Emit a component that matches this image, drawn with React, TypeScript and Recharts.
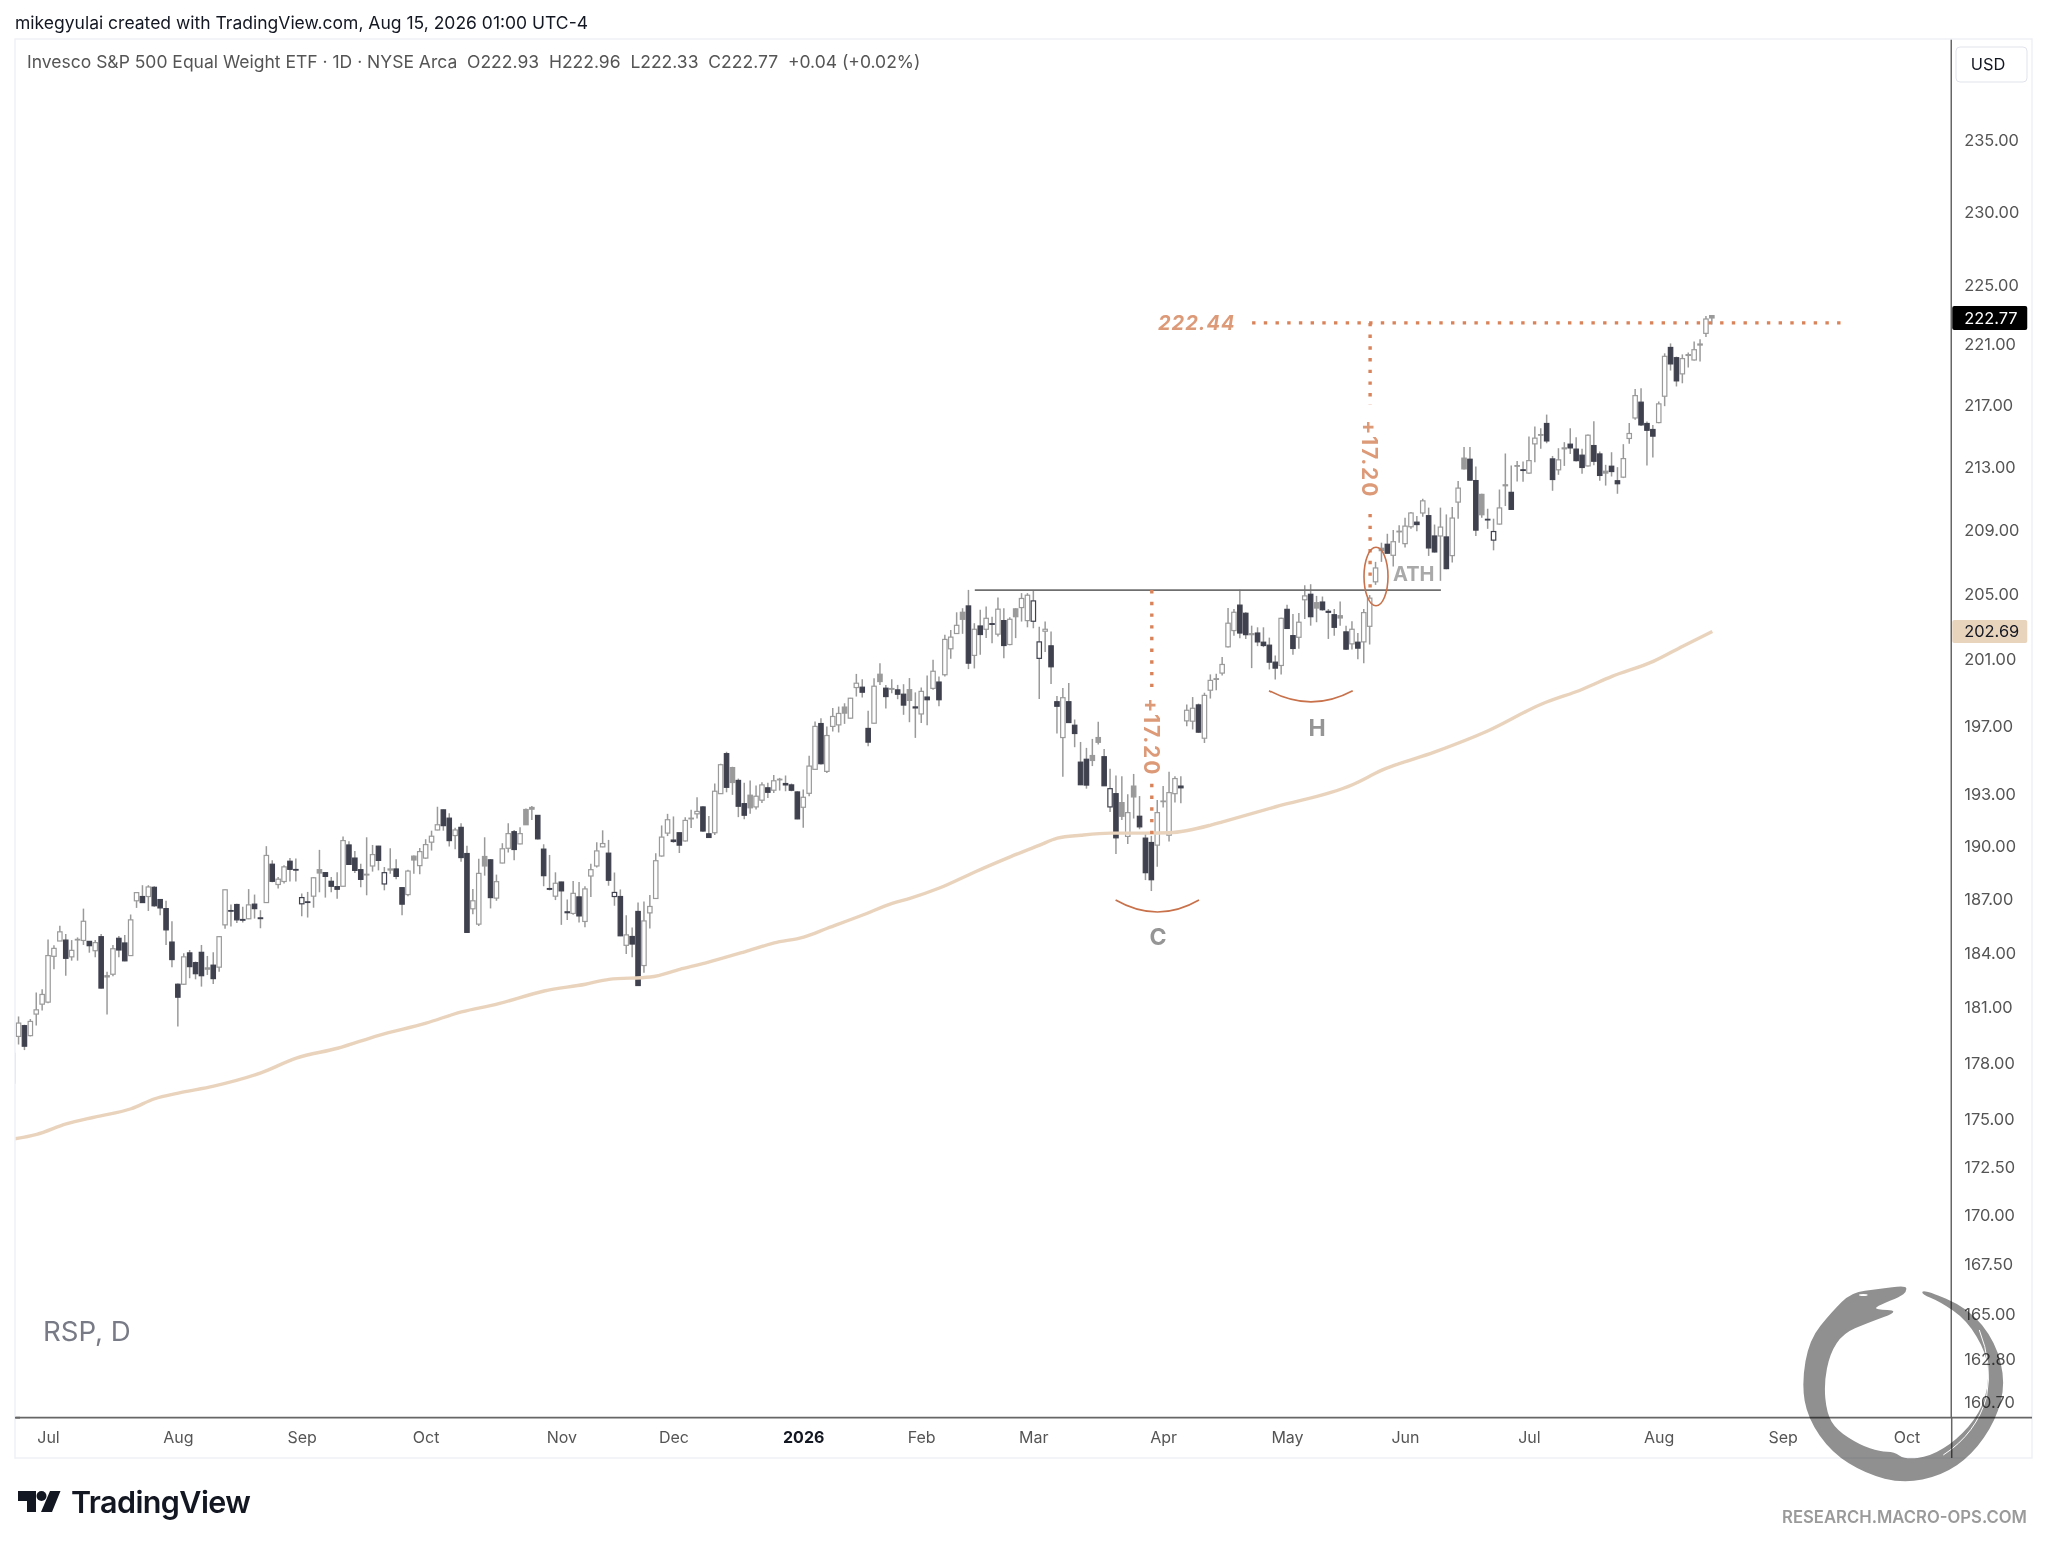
import { Bar, ComposedChart, Line, ReferenceLine, XAxis, YAxis } from 'recharts';

// one candle per session, the first one is cut off by the left edge of the pane
const highs = [
  178.51,180.50,180.05,180.36,181.81,181.99,184.74,184.41,185.50,185.04,
  184.70,184.85,186.46,184.65,184.70,185.04,182.95,184.43,184.93,184.98,
  186.13,187.38,187.78,187.78,187.72,186.97,186.90,185.75,182.30,183.97,
  184.15,183.51,184.43,183.82,184.02,184.93,187.54,186.69,186.73,186.56,
  187.56,187.25,186.37,190.00,189.20,188.25,188.91,189.32,189.30,187.31,
  187.40,188.24,189.79,188.51,188.24,188.51,190.55,190.28,189.73,189.00,
  190.51,190.07,190.02,188.81,189.88,189.26,187.64,188.66,189.47,189.90,
  190.40,190.89,192.27,192.11,191.89,191.06,191.31,190.02,187.57,189.28,
  190.51,189.26,188.38,190.17,191.31,190.93,191.08,192.17,192.31,191.77,
  190.11,189.50,188.51,187.98,186.97,188.02,187.96,187.72,189.00,190.23,
  190.91,190.36,188.50,187.54,186.09,185.40,186.81,186.86,187.22,189.59,
  191.19,191.86,191.71,190.77,191.67,192.09,192.82,192.30,191.73,193.62,
  194.78,195.48,194.60,193.91,193.66,193.80,193.50,193.70,193.66,194.12,
  193.95,194.09,193.62,193.17,193.27,195.25,197.27,197.47,196.98,198.07,
  198.16,198.36,198.68,200.12,199.80,197.91,199.86,200.76,199.46,199.80,
  199.46,199.50,199.87,199.01,199.31,200.03,200.98,199.97,202.49,202.79,
  203.87,204.12,205.25,203.20,204.02,204.22,203.60,204.78,204.12,203.56,
  204.12,205.05,205.05,205.21,202.99,203.30,202.69,198.79,199.27,199.57,
  197.39,196.06,195.71,196.24,197.25,195.65,194.48,194.09,194.05,192.99,
  194.18,192.89,190.78,190.59,192.66,193.47,194.31,194.05,194.05,198.28,
  198.73,198.34,198.99,200.09,200.13,201.14,204.13,204.07,205.26,203.87,
  203.05,202.95,202.95,202.32,201.24,203.54,204.33,203.77,203.83,205.54,
  205.60,204.88,204.84,204.07,204.07,204.54,203.05,203.32,202.60,204.07,
  204.93,206.99,208.19,208.75,208.98,209.29,209.76,210.12,209.87,210.96,
  210.40,209.33,210.40,209.97,210.44,212.10,214.28,214.28,213.03,211.28,
  210.33,209.70,211.55,213.86,213.08,213.38,213.34,214.95,215.60,215.49,
  216.38,213.70,214.20,214.59,215.49,214.91,214.16,215.08,215.95,213.99,
  213.13,213.94,212.98,214.46,215.84,218.06,218.10,215.93,215.71,217.23,
  220.41,221.07,220.19,220.34,220.47,221.19,221.34,222.90,222.96,
];
const bodyTops = [
  178.51,180.14,180.00,180.23,180.86,181.70,183.84,184.24,185.16,184.70,
  184.13,184.74,185.75,184.63,184.56,184.89,182.73,184.22,184.80,184.54,
  185.83,187.36,187.14,187.68,187.66,186.97,186.46,184.59,182.26,183.77,
  183.99,183.45,184.02,183.16,183.31,184.89,187.52,186.35,186.69,185.85,
  186.67,186.71,185.94,189.47,188.97,188.12,188.82,189.14,188.67,187.08,
  186.84,188.20,188.66,188.49,188.00,187.70,190.32,190.07,189.32,188.66,
  188.40,189.52,190.00,188.49,188.70,188.70,187.64,188.58,189.43,189.69,
  190.09,190.57,191.23,192.09,191.61,190.93,191.08,189.58,186.90,188.45,
  189.41,189.22,187.98,189.85,190.72,190.83,190.72,192.11,192.23,191.77,
  189.83,187.59,187.89,187.96,186.28,187.32,187.12,187.57,188.66,189.73,
  190.15,189.60,187.37,187.14,184.99,184.90,186.30,185.77,186.58,189.17,
  190.52,191.52,190.35,190.77,191.48,191.61,192.00,192.26,190.71,193.17,
  194.72,195.37,194.55,193.80,192.45,192.94,192.88,193.54,193.37,193.78,
  193.87,193.62,193.54,193.13,192.82,194.64,196.98,197.15,196.44,197.57,
  197.75,198.13,198.66,199.56,199.32,196.86,199.38,200.10,199.26,199.24,
  199.16,198.90,199.17,198.14,199.07,198.73,200.28,199.63,202.21,202.35,
  203.07,203.87,204.26,202.83,203.03,203.50,203.17,204.06,203.36,203.44,
  204.08,204.72,204.92,204.57,202.06,202.83,201.82,198.45,198.69,198.45,
  197.05,194.87,195.04,195.26,196.32,195.19,193.32,193.03,192.51,191.93,
  193.47,191.72,190.46,190.21,191.93,192.60,193.09,193.91,193.47,197.94,
  198.06,198.26,198.83,199.73,199.83,200.69,203.20,203.87,204.31,203.81,
  202.56,202.60,202.04,201.86,200.83,203.50,204.05,202.44,203.26,204.88,
  204.98,204.46,204.50,203.93,203.72,203.66,202.67,202.83,202.04,203.85,
  204.74,206.61,207.84,208.09,208.25,208.91,209.23,210.06,209.48,210.83,
  209.89,208.61,209.17,208.55,209.74,211.64,213.56,213.49,212.12,211.24,
  209.66,208.89,210.38,211.85,211.37,213.08,212.81,213.40,214.85,215.08,
  215.80,213.51,213.45,214.22,214.46,214.14,213.75,215.04,214.37,213.83,
  212.72,213.04,212.11,213.53,215.15,217.62,217.19,215.80,215.41,217.08,
  220.21,220.80,220.12,220.06,220.32,220.65,221.03,222.70,222.93,
];
const bodyBottoms = [
  176.91,179.42,178.89,179.46,180.63,181.17,181.28,183.80,184.65,183.69,
  183.77,184.72,184.68,184.39,184.11,182.05,182.66,182.81,184.15,183.55,
  183.84,186.90,186.80,187.14,186.62,186.50,185.27,183.62,181.55,182.26,
  183.23,182.84,182.73,183.09,182.57,183.20,185.55,186.32,185.83,185.81,
  185.89,186.46,185.90,186.80,188.00,187.82,187.99,188.68,188.64,186.73,
  186.82,187.16,188.47,188.28,187.72,187.55,187.72,188.96,188.62,188.11,
  188.36,188.87,189.19,187.85,188.64,188.28,186.71,187.25,189.21,188.89,
  189.32,190.23,190.93,191.18,190.32,190.61,189.35,185.13,186.45,185.59,
  188.87,187.08,187.05,189.04,189.88,189.81,190.13,191.23,192.13,190.42,
  188.32,187.55,187.16,187.46,186.23,186.19,186.05,185.74,188.30,188.87,
  189.96,188.06,187.14,184.94,184.41,184.48,182.19,183.29,186.22,187.03,
  189.44,190.75,190.27,190.06,190.30,191.57,191.86,190.87,190.50,190.77,
  193.03,193.40,193.68,192.30,191.78,192.21,192.26,192.65,193.11,193.23,
  193.84,193.54,193.23,191.57,192.24,193.05,194.45,194.78,194.33,196.98,
  197.07,197.77,197.47,199.30,199.02,196.05,197.17,199.66,198.76,199.20,
  198.90,198.25,198.53,198.08,197.72,198.57,199.25,198.57,200.07,201.64,
  202.57,203.44,200.77,201.24,202.51,202.83,203.13,202.53,201.84,201.90,
  203.60,204.16,203.36,203.32,201.06,202.71,200.55,198.18,196.32,197.21,
  196.56,193.55,193.53,194.97,196.04,193.49,192.26,190.48,191.72,190.56,
  192.84,191.11,188.49,188.09,190.06,192.57,190.63,193.03,193.37,197.31,
  197.29,196.64,196.28,199.14,199.79,200.17,201.76,202.75,202.60,202.50,
  202.50,202.06,201.84,200.83,200.47,200.63,202.88,201.66,202.34,204.64,
  203.60,204.13,204.03,203.87,202.95,203.52,201.62,201.94,201.68,202.06,
  203.01,205.75,207.69,207.53,207.40,208.87,208.13,209.19,209.33,210.06,
  207.86,207.61,208.61,206.57,207.38,210.75,212.87,212.15,208.98,209.95,
  209.62,208.35,209.36,211.79,210.29,213.04,212.77,212.60,214.48,215.04,
  214.67,212.19,212.81,214.16,214.22,213.40,212.96,213.06,213.36,212.45,
  212.60,212.70,211.92,212.34,214.83,216.16,215.71,215.36,214.98,215.86,
  217.58,219.71,218.59,219.05,220.27,219.97,220.96,221.74,222.77,
];
const lows = [
  176.91,178.98,178.68,179.42,180.01,180.82,181.22,183.08,184.65,182.73,
  183.56,183.56,184.43,184.00,183.75,182.03,180.61,182.70,183.75,183.53,
  183.82,186.50,186.78,186.33,186.56,186.09,184.43,183.20,179.96,182.22,
  182.59,182.53,182.13,182.77,182.28,182.95,185.33,185.46,185.66,185.68,
  185.87,185.90,185.36,186.78,187.95,187.59,187.88,187.99,187.99,186.03,
  185.96,186.51,187.38,187.08,187.38,187.01,187.70,188.94,188.47,187.66,
  187.21,188.55,188.62,187.49,188.43,188.11,186.09,187.16,188.43,188.40,
  189.28,189.75,190.91,190.89,189.98,189.83,189.11,185.11,186.14,185.49,
  188.32,186.47,186.90,189.02,189.64,189.19,190.11,191.21,191.50,190.38,
  187.72,187.49,186.94,185.55,185.82,186.12,185.68,185.42,187.12,188.79,
  189.94,187.75,186.62,184.92,183.93,183.75,182.17,182.89,185.35,187.01,
  189.40,190.58,190.20,189.61,190.27,191.04,191.59,190.83,190.48,190.64,
  193.01,193.11,192.96,191.67,191.55,191.86,192.11,192.49,192.78,193.07,
  193.21,193.17,193.17,191.55,191.06,192.88,194.43,194.74,194.23,196.68,
  196.62,197.13,197.45,198.76,198.70,195.80,197.15,199.46,198.05,198.96,
  198.60,197.67,197.23,196.30,197.19,197.05,199.17,198.18,199.97,201.04,
  202.55,202.55,200.41,200.45,201.28,202.29,201.98,202.39,201.06,201.86,
  202.29,203.30,202.95,202.89,198.61,201.44,199.51,196.56,194.02,197.19,
  195.75,193.53,193.32,194.64,195.91,193.47,191.97,189.55,191.51,190.12,
  191.59,190.97,188.07,187.45,188.83,192.22,190.27,192.51,192.47,196.99,
  196.80,196.60,196.00,198.64,199.14,200.03,201.72,202.44,202.28,202.24,
  200.47,201.80,201.74,200.39,199.79,200.09,202.84,201.28,201.64,203.46,
  203.05,203.26,203.97,202.24,202.44,203.05,201.56,201.60,201.00,200.77,
  201.90,205.56,206.99,207.51,206.70,208.19,207.88,209.06,208.91,209.83,
  207.36,207.57,205.81,206.53,206.95,209.70,212.83,212.12,208.61,209.76,
  209.06,207.71,209.33,210.50,210.27,212.06,212.04,212.55,213.30,214.16,
  214.52,211.47,212.49,213.06,213.83,213.34,212.55,213.02,213.10,212.11,
  211.80,212.38,211.28,212.28,214.48,216.05,215.64,213.08,213.60,215.82,
  216.93,219.27,218.22,218.43,219.47,219.93,219.86,221.50,222.33,
];
// u = hollow up, d = dark down, g = flat grey, k = hollow with a dark outline
const candleKinds = [
  'uuduuuuuud', 'ugududgudd', 'uududddddu', 'dddgduuddd', 'udduduuddk',
  'dugddduddd', 'gudkgddugu', 'uuuddudduu', 'gduuuduggd', 'ddudduduuu',
  'udkdudduuu', 'uuddugudd' + 'u', 'udgddguudu', 'gddduuuduu', 'uguuddugdg',
  'ddgdududuu', 'ugdudududu', 'guukkuddud', 'dddggdkdgu', 'gddduguudu',
  'uduuguuudd', 'gdddduddu' + 'u', 'dgdddgdudu', 'uugduguudu', 'dduduugddg',
  'dkugdgduug', 'ddugdddudd', 'gdduuudddu', 'uddugugug',
].join('').split('');

const sessionCount = 329; // the time scale runs on past the last candle

const monthDays = [6, 28, 49, 70, 93, 112, 134, 154, 173, 195, 216, 236, 257, 279, 300, 321];
const monthLabels = ['Jul', 'Aug', 'Sep', 'Oct', 'Nov', 'Dec', '2026', 'Feb', 'Mar', 'Apr', 'May', 'Jun', 'Jul', 'Aug', 'Sep', 'Oct'];

const priceTicks = [235, 230, 225, 222.77, 221, 217, 213, 209, 205, 202.69, 201, 197, 193, 190, 187, 184, 181, 178, 175, 172.5, 170, 167.5, 165, 162.8, 160.7];

// long moving average, read at the places where it bends
const averageDays = [0, 4, 9, 14, 20, 24, 28, 34, 42, 48, 55, 62, 70, 76, 82, 90, 97, 101, 108, 113, 118, 124, 129, 134, 138, 144, 149, 152, 157, 163, 169, 174, 177, 181, 186, 192, 196, 203, 205, 214, 227, 232, 241, 250, 259, 266, 271, 278, 283, 288];
const averageValues = [173.95, 174.2, 174.75, 175.12, 175.55, 176.08, 176.38, 176.75, 177.46, 178.25, 178.78, 179.48, 180.14, 180.75, 181.17, 181.89, 182.26, 182.53, 182.66, 183.08, 183.49, 184.05, 184.54, 184.87, 185.36, 186.1, 186.76, 187.04, 187.62, 188.53, 189.39, 190.06, 190.46, 190.63, 190.75, 190.75, 190.77, 191.21, 191.4, 192.27, 193.55, 194.4, 195.47, 196.72, 198.3, 199.2, 199.97, 200.88, 201.8, 202.69];

const targetPrice = 222.44;
const breakoutPrice = 205.24;

const rows = Array.from({ length: sessionCount }, (_, day) => {
  const at = averageDays.indexOf(day);
  return {
    day,
    kind: candleKinds[day],
    wick: day < highs.length ? [lows[day], highs[day]] : undefined,
    body: day < highs.length ? [bodyBottoms[day], bodyTops[day]] : undefined,
    average: at >= 0 ? averageValues[at] : undefined,
  };
});

const DARK = '#3f414e';
const GREY = '#9a9a9a';
const ORANGE = '#d9835a';
const LABEL_ORANGE = '#dd9a78';
const AXIS = '#666666';
const TEXT = '#555555';
const FONT = 'Inter, sans-serif';
const PLOT_RIGHT = 1951.25;

function Wick(props: any) {
  const { x, y, width, height, payload } = props;
  if (!payload.wick) return null;
  const cx = x + width / 2;
  return <line x1={cx} x2={cx} y1={y} y2={y + height} stroke={GREY} strokeWidth={1.5} />;
}

function Body(props: any) {
  const { x, y, width, height, payload } = props;
  if (!payload.body) return null;
  const kind = payload.kind;
  const fill = kind === 'd' ? DARK : kind === 'g' ? GREY : '#ffffff';
  const stroke = kind === 'd' || kind === 'k' ? DARK : GREY;
  const cx = x + width / 2;
  const h = Math.max(height, 0.6);
  return <rect x={cx - 2.2} y={y} width={4.4} height={h} fill={fill} stroke={stroke} strokeWidth={1.2} />;
}

function PriceTick(props: any) {
  const { y, payload } = props;
  const v = payload.value;
  const last = v === 222.77;
  const average = v === 202.69;
  return (
    <g>
      {last && <rect x={PLOT_RIGHT + 1} y={y - 12} width={75} height={24} rx={2} fill="#000000" />}
      {average && <rect x={PLOT_RIGHT + 1} y={y - 11.5} width={75} height={23} rx={2} fill="#e8d3bd" />}
      <text
        x={PLOT_RIGHT + 13}
        y={y}
        dy="0.36em"
        fontFamily={FONT}
        fontSize={16.4}
        fill={last ? '#ffffff' : average ? '#131722' : TEXT}
      >
        {v.toFixed(2)}
      </text>
    </g>
  );
}

function MonthTick(props: any) {
  const { x, payload } = props;
  const label = monthLabels[monthDays.indexOf(payload.value)];
  const bold = label === '2026';
  return (
    <text
      x={x}
      y={1437}
      dy="0.36em"
      textAnchor="middle"
      fontFamily={FONT}
      fontSize={16}
      fontWeight={bold ? 700 : 400}
      fill={bold ? '#131722' : TEXT}
    >
      {label}
    </text>
  );
}

const snake: [number, number][] = [
  [618, 106], [535, 118], [455, 126], [395, 186], [328, 268], [305, 400], [323, 505], [395, 608], [498, 672], [610, 700],
  [725, 677], [816, 615], [887, 512], [917, 400], [887, 276], [805, 174], [672, 118], [663, 132], [720, 155], [800, 210],
  [860, 310], [868, 400], [840, 490], [770, 570], [690, 620], [615, 628], [583, 606], [540, 605], [480, 585], [410, 540],
  [380, 490], [372, 400], [390, 310], [430, 250], [500, 220], [603, 182], [520, 178], [540, 165], [600, 140], [620, 125],
];

function smoothPath(pts: [number, number][]) {
  let d = `M${(pts[0][0] + pts[1][0]) / 2} ${(pts[0][1] + pts[1][1]) / 2}`;
  for (let i = 1; i <= pts.length; i++) {
    const p = pts[i % pts.length];
    const n = pts[(i + 1) % pts.length];
    d += `Q${p[0]} ${p[1]} ${(p[0] + n[0]) / 2} ${(p[1] + n[1]) / 2}`;
  }
  return d + 'Z';
}

function Overlay() {
  const rotated = { fontFamily: FONT, fontSize: 21, fontWeight: 700, fill: LABEL_ORANGE, letterSpacing: 1.8 };
  return (
    <svg width={2048} height={1547} style={{ position: 'absolute', left: 0, top: 0, pointerEvents: 'none' }}>
      <rect x={15} y={39} width={2017} height={1419} fill="none" stroke="#eff1f5" strokeWidth={1.5} />
      <line x1={PLOT_RIGHT} x2={2032} y1={1417.7} y2={1417.7} stroke={AXIS} strokeWidth={1.8} />
      <line x1={15} x2={20} y1={1417.7} y2={1417.7} stroke={AXIS} strokeWidth={1.8} />
      <line x1={1951.7} x2={1951.7} y1={1417} y2={1458} stroke={AXIS} strokeWidth={1.5} />

      <text x={15} y={29} fontFamily={FONT} fontSize={17.5} fill="#131722">
        mikegyulai created with TradingView.com, Aug 15, 2026 01:00 UTC-4
      </text>
      <text x={27} y={68} fontFamily={FONT} fontSize={17.5} fill={TEXT} xmlSpace="preserve">
        Invesco S&amp;P 500 Equal Weight ETF · 1D · NYSE Arca  O222.93  H222.96  L222.33  C222.77  +0.04 (+0.02%)
      </text>

      <rect x={1956} y={47} width={71} height={35} rx={4} fill="#ffffff" stroke="#e0e3eb" />
      <text x={1988} y={70} textAnchor="middle" fontFamily={FONT} fontSize={16.4} fill="#131722">USD</text>

      <text x={43} y={1341} fontFamily={FONT} fontSize={27.6} fill="#787b86">RSP, D</text>

      {/* drawings */}
      <text x={1158} y={330} fontFamily={FONT} fontSize={20} fontWeight={700} fontStyle="italic" fill={LABEL_ORANGE} letterSpacing={1}>222.44</text>
      <text transform="translate(1362 420) rotate(90)" {...rotated}>+17.20</text>
      <text transform="translate(1143.5 698) rotate(90)" {...rotated}>+17.20</text>
      <text x={1393} y={581} fontFamily={FONT} fontSize={20} fontWeight={700} fill="#a9a9a9">ATH</text>
      <text x={1317} y={736} textAnchor="middle" fontFamily={FONT} fontSize={23} fontWeight={700} fill="#959595">H</text>
      <text x={1158} y={945} textAnchor="middle" fontFamily={FONT} fontSize={23} fontWeight={700} fill="#959595">C</text>
      <path d="M1115.6 900Q1157.6 924 1199 900" fill="none" stroke="#c8714a" strokeWidth={1.6} />
      <path d="M1269 690.7Q1311 713 1352.7 690.7" fill="none" stroke="#c8714a" strokeWidth={1.6} />
      <ellipse cx={1376} cy={576.5} rx={12} ry={29.3} fill="none" stroke="#c8714a" strokeWidth={1.6} />

      {/* footer */}
      <path d="M18 1491H36V1512H27V1501H18Z M50 1491H60.5L52 1512H41Z" fill="#131722" />
      <circle cx={41.5} cy={1496} r={5} fill="#131722" />
      <text x={71} y={1513} fontFamily={FONT} fontSize={30.5} fontWeight={600} fill="#131722" letterSpacing={-0.6}>TradingView</text>
      <text x={1782} y={1523} fontFamily={FONT} fontSize={17} fontWeight={600} fill="#9a9a9a" textLength={245} lengthAdjust="spacingAndGlyphs">RESEARCH.MACRO-OPS.COM</text>

      {/* watermark */}
      <g transform="translate(1700 1250) scale(0.3333)" style={{ mixBlendMode: 'multiply' }}>
        <path d={smoothPath(snake)} fill="#909090" />
        <ellipse cx={490} cy={135} rx={13} ry={3} fill="#ffffff" />
        <path d="M838 240Q878 340 860 440Q830 550 730 615" fill="none" stroke="#ffffff" strokeWidth={3} />
      </g>
    </svg>
  );
}

export default function App() {
  return (
    <div style={{ position: 'absolute', left: 0, top: 0, width: 2048, height: 1547, background: '#ffffff', overflow: 'hidden' }}>
      <div style={{ position: 'absolute', left: 0, top: 0, clipPath: 'inset(0 0 0 15px)' }}>
        <ComposedChart
          width={2048}
          height={1547}
          data={rows}
          barSize={5}
          barGap={-5}
          margin={{ top: 39, right: 16.75, bottom: 89.3, left: 10.15 }}
        >
          <XAxis
            dataKey="day"
            type="category"
            height={40}
            ticks={monthDays}
            interval={0}
            tick={<MonthTick />}
            tickLine={false}
            axisLine={{ stroke: AXIS, strokeWidth: 1.8 }}
          />
          <YAxis
            orientation="right"
            type="number"
            scale="log"
            width={80}
            domain={[159.95, 242.3]}
            allowDataOverflow
            ticks={priceTicks}
            interval={0}
            tick={<PriceTick />}
            tickLine={false}
            axisLine={{ stroke: AXIS, strokeWidth: 1.5 }}
          />
          <ReferenceLine segment={[{ x: 163, y: breakoutPrice }, { x: 242, y: breakoutPrice }]} stroke="#6f6f6f" strokeWidth={1.8} />
          <Line dataKey="average" stroke="#e9d3bd" strokeWidth={3.4} dot={false} connectNulls type="monotone" isAnimationActive={false} />
          <Bar dataKey="wick" shape={<Wick />} isAnimationActive={false} />
          <Bar dataKey="body" shape={<Body />} isAnimationActive={false} />
          <ReferenceLine segment={[{ x: 210, y: targetPrice }, { x: 310, y: targetPrice }]} stroke={ORANGE} strokeWidth={3.4} strokeDasharray="3.4 8.3" />
          <ReferenceLine segment={[{ x: 230, y: targetPrice }, { x: 230, y: 217 }]} stroke={ORANGE} strokeWidth={3.4} strokeDasharray="3.4 8.3" />
          <ReferenceLine segment={[{ x: 230, y: 210 }, { x: 230, y: breakoutPrice }]} stroke={ORANGE} strokeWidth={3.4} strokeDasharray="3.4 8.3" />
          <ReferenceLine segment={[{ x: 193, y: breakoutPrice }, { x: 193, y: 199.2 }]} stroke={ORANGE} strokeWidth={3.4} strokeDasharray="3.4 8.3" />
          <ReferenceLine segment={[{ x: 193, y: 193.6 }, { x: 193, y: 190.6 }]} stroke={ORANGE} strokeWidth={3.4} strokeDasharray="3.4 8.3" />
        </ComposedChart>
      </div>
      <Overlay />
    </div>
  );
}
